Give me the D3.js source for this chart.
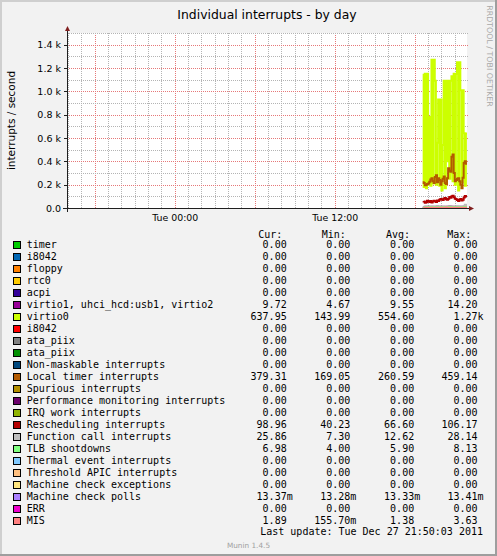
<!DOCTYPE html>
<html><head><meta charset="utf-8">
<script src="https://cdn.jsdelivr.net/npm/d3@7"></script>
<style>html,body{margin:0;padding:0;background:#fff}svg{display:block}</style>
</head><body>
<script>
// ---------- DATA ----------
const legendNames = ["timer","i8042","floppy","rtc0","acpi","virtio1, uhci_hcd:usb1, virtio2","virtio0","i8042","ata_piix","ata_piix","Non-maskable interrupts","Local timer interrupts","Spurious interrupts","Performance monitoring interrupts","IRQ work interrupts","Rescheduling interrupts","Function call interrupts","TLB shootdowns","Thermal event interrupts","Threshold APIC interrupts","Machine check exceptions","Machine check polls","ERR","MIS"];
const legendColors = ["#00CC00","#0066B3","#FF8000","#FFCC00","#330099","#990099","#CCFF00","#FF0000","#808080","#008F00","#00487D","#B35A00","#B38F00","#6B006B","#8FB300","#B30000","#BEBEBE","#80FF80","#80C9FF","#FFC080","#FFE680","#AA80FF","#EE00CC","#FF8080"];
const curVals = [0,0,0,0,0,9.72,637.95,0,0,0,0,379.31,0,0,0,98.96,25.86,6.98,0,0,0,0.01337,0,1.89];
const minVals = [0,0,0,0,0,4.67,143.99,0,0,0,0,169.05,0,0,0,40.23,7.30,4.00,0,0,0,0.01328,0,0.15570];
const avgVals = [0,0,0,0,0,9.55,554.60,0,0,0,0,260.59,0,0,0,66.60,12.62,5.90,0,0,0,0.01333,0,1.38];
const maxVals = [0,0,0,0,0,14.20,1270,0,0,0,0,459.14,0,0,0,106.17,28.14,8.13,0,0,0,0.01341,0,3.63];
const columnHeaders = ["Cur:","Min:","Avg:","Max:"];

const yTickValues = [0,200,400,600,800,1000,1200,1400];
const xTickLabels = ["Tue 00:00","Tue 12:00"];
const xTickTimes = ["2011-12-27T00:00:00Z","2011-12-27T12:00:00Z"];
const domainStart = "2011-12-26T15:55:00Z";
const domainEnd = "2011-12-27T21:55:00Z";
const seriesStart = "2011-12-27T18:40:00Z"; // 5-minute samples
const seriesEnd = "2011-12-27T21:56:00Z";

const virtio1Vals = [10,9,10,11,9,10,8,9,10,11,10,9,10,12,9,10,11,10,9,8,10,9,10,11,14,12,10,9,10,9,8,10,9,11,10,9,5,10,9,9.72];
const virtio0Vals = [1150,180,1150,170,1150,200,780,190,1270,210,1270,1090,200,560,930,190,930,150,540,1090,170,1090,400,1090,250,1090,1130,230,1150,200,1150,1250,150,1250,1010,220,1010,640,190,637.95];
const localTimerVals = [230,215,195,200,205,210,225,245,255,230,215,265,280,220,255,240,200,230,250,270,215,205,255,340,320,310,440,459,300,230,240,250,255,230,200,169,260,385,400,379.31];
const reschedVals = [60,55,45,50,62,58,52,60,48,55,63,57,52,65,60,70,78,72,68,82,85,75,70,80,95,88,100,106,92,80,75,68,60,72,78,65,70,90,102,98.96];
const funcCallVals = [10,9,8,12,11,10,9,13,12,10,8,11,12,14,10,9,11,13,12,10,9,8,12,14,16,15,13,12,11,10,12,14,13,11,10,9,12,18,28,25.86];
const tlbVals = [6,5,5,6,7,6,5,6,6,5,4,5,6,7,6,6,5,6,7,6,5,6,6,7,8,7,6,6,5,5,6,6,7,6,5,5,6,7,8,6.98];
const misVals = [1.2,0.8,1.5,2.1,0.9,1.1,1.6,0.5,1.3,2.4,1.0,0.7,1.4,1.8,0.16,1.2,1.5,2.0,1.1,0.9,1.3,3.63,1.7,1.2,0.8,1.4,1.9,1.0,1.3,1.6,0.6,1.1,1.5,2.2,1.3,0.9,1.4,1.8,1.2,1.89];

const drawnSeries = [
  {idx:5, values:virtio1Vals},
  {idx:6, values:virtio0Vals},
  {idx:11, values:localTimerVals},
  {idx:15, values:reschedVals},
  {idx:16, values:funcCallVals},
  {idx:17, values:tlbVals},
  {idx:23, values:misVals}
];

// ---------- LAYOUT ----------
const W = 497, H = 556;
const PL = 67, PR = 467, PT = 33, PB = 208;
const SANS = "'DejaVu Sans', Verdana, sans-serif";
const MONO = "'DejaVu Sans Mono', monospace";

const svg = d3.select("body").append("svg").attr("width", W).attr("height", H);

// background + 3D frame
svg.append("rect").attr("width", W).attr("height", H).attr("fill", "#F2F2F2");
svg.append("path").attr("d", `M0,0H${W}V2H2V${H}H0Z`).attr("fill", "#CFCFCF");
svg.append("path").attr("d", `M${W},${H}H0V${H-2}H${W-2}V0H${W}Z`).attr("fill", "#9E9E9E");

const x = d3.scaleUtc().domain([new Date(domainStart), new Date(domainEnd)]).range([PL, PR]);
const y = d3.scaleLinear().domain([0, 1500]).range([PB, PT]);

// canvas
svg.append("rect").attr("x", PL).attr("y", PT).attr("width", PR - PL).attr("height", PB - PT).attr("fill", "#FFFFFF");

const grid = svg.append("g");
// vertical grid (hourly minor, 6-hourly major)
x.ticks(d3.utcHour.every(1)).forEach(t => {
  const xx = Math.round(x(t)) + 0.5;
  const major = t.getUTCHours() % 6 === 0;
  grid.append("line").attr("x1", xx).attr("x2", xx).attr("y1", PT).attr("y2", PB)
    .attr("stroke", major ? "#E67878" : "#B4B4B4").attr("stroke-dasharray", "1,1");
});
// horizontal grid
d3.range(0, 1501, 100).forEach(v => {
  if (v === 0) return;
  const yy = Math.round(y(v)) + 0.5;
  const major = v % 200 === 0;
  grid.append("line").attr("x1", PL).attr("x2", PR + 1).attr("y1", yy).attr("y2", yy)
    .attr("stroke", major ? "#E67878" : "#B4B4B4").attr("stroke-dasharray", "1,1");
});

// series
const times = d3.utcMinute.every(5).range(new Date(seriesStart), new Date(seriesEnd));
const lineGen = d3.line().x((d, i) => x(times[i])).y(d => y(d)).curve(d3.curveStepBefore);
const gSeries = svg.append("g");
drawnSeries.forEach(s => {
  gSeries.append("path").attr("d", lineGen(s.values)).attr("fill", "none")
    .attr("stroke", legendColors[s.idx]).attr("stroke-width", 2);
});

// axes
const axisG = svg.append("g").attr("shape-rendering", "crispEdges");
axisG.append("line").attr("x1", PL - 4).attr("x2", PR + 3).attr("y1", PB + 0.5).attr("y2", PB + 0.5).attr("stroke", "#1F1F1F");
axisG.append("line").attr("x1", PL + 0.5).attr("x2", PL + 0.5).attr("y1", PB + 4).attr("y2", PT - 3).attr("stroke", "#1F1F1F");
svg.append("path").attr("d", `M${PR+2},${PB-2}L${PR+7},${PB+0.5}L${PR+2},${PB+3}Z`).attr("fill", "#801F1F");
svg.append("path").attr("d", `M${PL-2},${PT-2}L${PL+0.5},${PT-7}L${PL+3},${PT-2}Z`).attr("fill", "#801F1F");

// y ticks
const yAxis = d3.axisLeft(y).tickValues(yTickValues).tickSize(3).tickPadding(3)
  .tickFormat(v => v === 0 ? "0.0" : (v / 1000).toFixed(1) + " k");
const ya = svg.append("g").attr("transform", `translate(${PL},0)`).call(yAxis);
ya.select(".domain").remove();
ya.selectAll(".tick line").attr("stroke", "#1F1F1F").attr("shape-rendering", "crispEdges");
ya.selectAll(".tick text").attr("font-family", SANS).attr("font-size", "9.5px").attr("fill", "#000");

// x ticks
const xAxis = d3.axisBottom(x).tickValues(xTickTimes.map(s => new Date(s))).tickSize(0).tickPadding(6)
  .tickFormat((d, i) => xTickLabels[i]);
const xa = svg.append("g").attr("transform", `translate(0,${PB})`).call(xAxis);
xa.select(".domain").remove();
xa.selectAll(".tick text").attr("font-family", SANS).attr("font-size", "9.4px").attr("fill", "#000");

// title
svg.append("text").attr("x", (PL + PR) / 2).attr("y", 18.5).attr("text-anchor", "middle")
  .attr("font-family", SANS).attr("font-size", "12.4px").attr("fill", "#000").text("Individual interrupts - by day");

// y label
svg.append("text").attr("transform", `translate(14.5,${(PT + PB) / 2}) rotate(-90)`).attr("text-anchor", "middle")
  .attr("font-family", SANS).attr("font-size", "10.5px").attr("fill", "#000").text("interrupts / second");

// watermark on right
svg.append("text").attr("transform", `translate(486.5,56) rotate(90)`).attr("text-anchor", "middle")
  .attr("font-family", SANS).attr("font-size", "7.9px").attr("fill", "#A8A8A8").text("RRDTOOL / TOBI OETIKER");

// legend
const fmt = v => {
  if (v === 0) return ["0.00", ""];
  const a = Math.abs(v);
  if (a >= 1000) return [(v / 1000).toFixed(2), "k"];
  if (a < 1) return [(v * 1000).toFixed(2), "m"];
  return [v.toFixed(2), ""];
};
const colEnds = [286.7, 350.3, 414.2, 477.5];
const headerStarts = [258.3, 321.7, 386, 447.3];
const leg = svg.append("g").attr("font-family", MONO).attr("font-size", "10px").attr("fill", "#000");
columnHeaders.forEach((h, j) => {
  leg.append("text").attr("x", headerStarts[j]).attr("y", 237.5).text(h);
});
const cols = [curVals, minVals, avgVals, maxVals];
legendNames.forEach((name, i) => {
  const by = 247.8 + 12 * i;
  leg.append("rect").attr("x", 13.5).attr("y", 241.5 + 12 * i).attr("width", 7).attr("height", 7)
    .attr("fill", legendColors[i]).attr("stroke", "#000").attr("stroke-width", 1);
  leg.append("text").attr("x", 26.7).attr("y", by).text(name);
  cols.forEach((arr, j) => {
    const [num, unit] = fmt(arr[i]);
    leg.append("text").attr("x", colEnds[j]).attr("y", by).attr("text-anchor", "end").text(num);
    if (unit) leg.append("text").attr("x", colEnds[j]).attr("y", by).text(unit);
  });
});
leg.append("text").attr("x", 483).attr("y", 534.5).attr("text-anchor", "end")
  .text("Last update: Tue Dec 27 21:50:03 2011");

svg.append("text").attr("x", 248.5).attr("y", 548).attr("text-anchor", "middle")
  .attr("font-family", SANS).attr("font-size", "7.3px").attr("fill", "#A0A0A0").text("Munin 1.4.5");
</script>
</body></html>
